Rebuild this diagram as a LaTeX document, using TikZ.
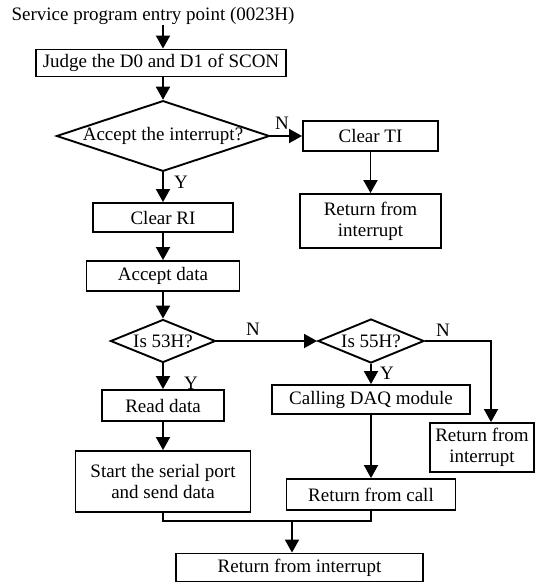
\documentclass[tikz,border=0pt]{standalone}
\usepackage{fontspec}
\setmainfont{Liberation Serif}
\usetikzlibrary{shapes.geometric,arrows.meta}
\begin{document}
\begin{tikzpicture}[x=1pt,y=-1pt,
  every node/.style={font=\fontsize{19}{21}\selectfont},
  box/.style={draw,line width=1.9pt,inner sep=0pt,align=center},
  dia/.style={draw,diamond,line width=1.9pt,inner sep=0pt,aspect=3},
  conn/.style={line width=1.9pt},
  arr/.style={conn,-{Triangle[length=13pt,width=14pt]}},
  lab/.style={inner sep=0pt}]
\useasboundingbox (0,0) rectangle (535,582);
\node[inner sep=0pt] (title) at (153,16) {Service program entry point (0023H)};
\node[box,minimum width=250pt,minimum height=27pt] (judge) at (161,63) {Judge the D0 and D1 of SCON};
\node[dia,minimum width=213pt,minimum height=67pt] (d1) at (163,136) {Accept the interrupt?};
\node[box,minimum width=135pt,minimum height=30pt] (clearTI) at (370.5,136) {Clear TI};
\node[box,minimum width=141pt,minimum height=54pt] (ret1) at (370.5,221) {Return from\\interrupt};
\node[box,minimum width=140pt,minimum height=29pt] (clearRI) at (163,217.5) {Clear RI};
\node[box,minimum width=153pt,minimum height=30pt] (accept) at (163,276) {Accept data};
\node[dia,minimum width=105pt,minimum height=43pt] (d2) at (163,341) {Is 53H?};
\node[dia,minimum width=106pt,minimum height=44pt] (d3) at (371,341) {Is 55H?};
\node[box,minimum width=122pt,minimum height=31pt] (read) at (163,405.5) {Read data};
\node[box,minimum width=198pt,minimum height=29pt] (daq) at (371,399.5) {Calling DAQ module};
\node[box,minimum width=104pt,minimum height=49pt] (ret2) at (482,447.5) {Return from\\interrupt};
\node[box,minimum width=175pt,minimum height=61pt] (start) at (163,481.5) {Start the serial port\\and send data};
\node[box,minimum width=169pt,minimum height=31pt] (retcall) at (371,494.5) {Return from call};
\node[box,minimum width=247pt,minimum height=28pt] (final) at (299.5,567.5) {Return from interrupt};
\coordinate (c3) at (491,341);
\coordinate (m1) at (163,521);
\coordinate (m2) at (371,521);
\coordinate (m3) at (292,521);
\draw[arr] (title.south -| d1.north) -- (d1.north |- judge.north);
\draw[arr] (d1.north |- judge.south) -- (d1.north);
\draw[arr] (d1.east) -- (clearTI.west);
\draw[arr] (clearTI.south) -- (ret1.north);
\draw[arr] (d1.south) -- (clearRI.north);
\draw[arr] (clearRI.south) -- (accept.north);
\draw[arr] (accept.south) -- (d2.north);
\draw[arr] (d2.east) -- (d3.west);
\draw[arr] (d2.south) -- (read.north);
\draw[arr] (read.south) -- (start.north);
\draw[arr] (d3.south) -- (daq.north);
\draw[arr] (daq.south) -- (retcall.north);
\draw[arr] (d3.east) -- (c3) -- (c3 |- ret2.north);
\draw[conn] (start.south) -- (m1) -- (m2) -- (retcall.south);
\draw[arr] (m3) -- (m3 |- final.north);
\node[lab] (n1) at (282,123) {N};
\node[lab] (y1) at (181,182) {Y};
\node[lab] (n2) at (253,329) {N};
\node[lab] (y2) at (191,383) {Y};
\node[lab] (n3) at (443,330) {N};
\node[lab] (y3) at (387,373) {Y};
\end{tikzpicture}
\end{document}
